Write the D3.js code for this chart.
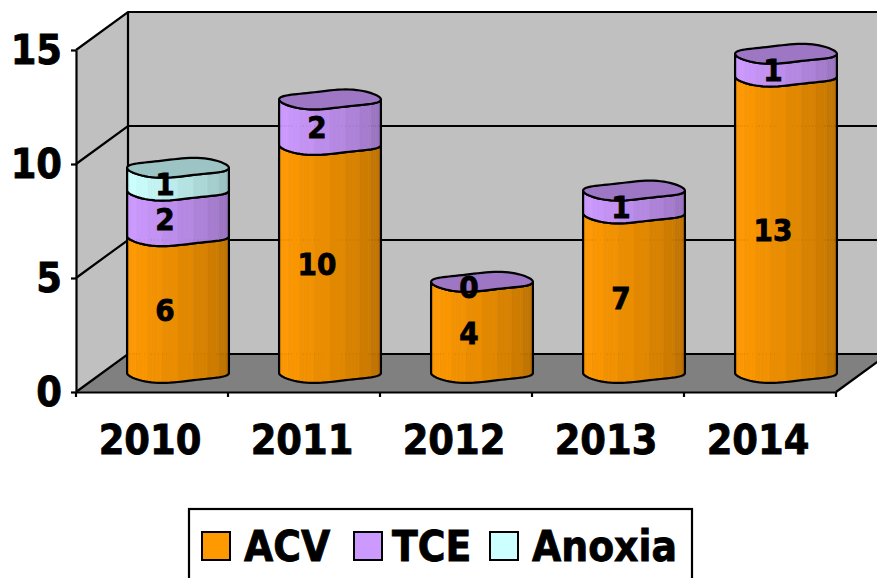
<!DOCTYPE html>
<html>
<head>
<meta charset="utf-8">
<script src="https://cdn.jsdelivr.net/npm/d3@7"></script>
<style>
html, body { margin: 0; padding: 0; background: #fff; overflow: hidden; }
svg { display: block; }
text { font-family: "DejaVu Sans Condensed", "DejaVu Sans", sans-serif; font-stretch: condensed; font-weight: bold; fill: #000; stroke: #000; stroke-width: 0.8px; }
</style>
</head>
<body>
<svg width="877" height="578"></svg>
<script>
var years = ["2010", "2011", "2012", "2013", "2014"];
var seriesNames = ["ACV", "TCE", "Anoxia"];
var acv = [6, 10, 4, 7, 13];
var tce = [2, 2, 0, 1, 1];
var anoxia = [1, null, null, null, null];
var yTicks = [0, 5, 10, 15];
var seriesColors = ["#FF9900", "#CC99FF", "#CCFFFF"];

var width = 877, height = 578;
var svg = d3.select("svg");

// front plane of the 3d box, the back wall is this shifted by depth
var x = d3.scaleBand().domain(years).range([76, 836]);
var y = d3.scaleLinear().domain([0, 15]).range([392, 50]);
var depthX = 52, depthY = 38;
var boxRight = x.range()[1];

var table = years.map(function(d, i) {
  return { year: d, ACV: acv[i], TCE: tce[i], Anoxia: anoxia[i] || 0, has: [true, true, anoxia[i] != null] };
});
var stacked = d3.stack().keys(seriesNames)(table);

// walls and floor
var yMax = y(15), y0 = y(0);
var frame = svg.append("g");
frame.append("path")
  .attr("d", d3.line()([[76, y0], [76, yMax], [76 + depthX, yMax - depthY], [76 + depthX, y0 - depthY]]) + "Z")
  .attr("fill", "#C0C0C0");
frame.append("rect")
  .attr("x", 76 + depthX).attr("y", yMax - depthY)
  .attr("width", boxRight - 76).attr("height", y0 - yMax)
  .attr("fill", "#C0C0C0");
frame.append("path")
  .attr("d", d3.line()([[76, y0], [76 + depthX, y0 - depthY], [boxRight + depthX, y0 - depthY], [boxRight, y0]]) + "Z")
  .attr("fill", "#808080");

// gridlines run along the side wall and then the back wall
yTicks.forEach(function(t) {
  frame.append("path")
    .attr("d", d3.line()([[76, y(t)], [76 + depthX, y(t) - depthY], [boxRight + depthX, y(t) - depthY]]))
    .attr("fill", "none").attr("stroke", "#000").attr("stroke-width", 2.2);
});
frame.append("line")
  .attr("x1", 76 + depthX).attr("x2", 76 + depthX)
  .attr("y1", yMax - depthY).attr("y2", y0 - depthY)
  .attr("stroke", "#000").attr("stroke-width", 2.2);
frame.append("line")
  .attr("x1", boxRight).attr("x2", boxRight + depthX)
  .attr("y1", y0).attr("y2", y0 - depthY)
  .attr("stroke", "#000").attr("stroke-width", 2.2);

// axes
var yAxis = svg.append("g").attr("transform", "translate(76,0)")
  .call(d3.axisLeft(y).tickValues(yTicks).tickSize(5).tickPadding(9).tickSizeOuter(0));
var xAxis = svg.append("g").attr("transform", "translate(0," + y0 + ")")
  .call(d3.axisBottom(x).tickSize(0).tickPadding(33));
xAxis.selectAll("g.edge").data(d3.range(years.length + 1)).enter().append("line")
  .attr("class", "edge")
  .attr("x1", function(d) { return 76 + d * x.bandwidth(); })
  .attr("x2", function(d) { return 76 + d * x.bandwidth(); })
  .attr("y1", 0).attr("y2", 5);
svg.selectAll(".domain, .tick line, .edge").attr("stroke", "#000").attr("stroke-width", 2.2);
yAxis.selectAll("text").attr("font-size", 41).attr("font-family", null).attr("dy", "0.33em");
xAxis.selectAll("text").attr("font-size", 41).attr("font-family", null).attr("dy", "0.71em").attr("dx", -2);

// cylinders
var barW = x.bandwidth() * 0.67, ry = 9, steps = 40, bands = 10, wobble = 1.7;

function rim(u) { // wobbly front edge of the ellipse
  return ry * Math.sqrt(Math.max(0, 1 - u * u)) - wobble * Math.sin(Math.PI * u);
}
function back(u) {
  return -ry * Math.sqrt(Math.max(0, 1 - u * u)) - wobble * Math.sin(Math.PI * u);
}
function stepU(i) { return -Math.cos(Math.PI * i / steps); }
function shade(color, t) {
  var band = Math.floor(t * bands);
  var k = band == 0 ? 0.96 : 1 - 0.28 * Math.pow((band - 1) / (bands - 2), 1.3);
  var c = d3.rgb(color);
  return d3.rgb(c.r * k, c.g * k, c.b * k).formatHex();
}

var barLayer = svg.append("g");
var labelLayer = svg.append("g");

years.forEach(function(yr, i) {
  var cx = x(yr) + x.bandwidth() / 2 + depthX / 2;
  var r = barW / 2;
  var topY = null, topColor = null;

  stacked.forEach(function(s, si) {
    if (!table[i].has[si]) return;
    var yBot = y(s[i][0]) - depthY / 2, yTop = y(s[i][1]) - depthY / 2;
    var g = barLayer.append("g");
    d3.range(steps).forEach(function(k) {
      var a = stepU(k), b = stepU(k + 1);
      var col = shade(seriesColors[si], k / steps);
      g.append("path")
        .attr("d", d3.line()([
          [cx + a * r, yTop + rim(a)], [cx + b * r, yTop + rim(b)],
          [cx + b * r, yBot + rim(b)], [cx + a * r, yBot + rim(a)]
        ]) + "Z")
        .attr("fill", col).attr("stroke", col).attr("stroke-width", 0.5);
    });
    var front = d3.range(steps + 1).map(function(k) { var u = stepU(k); return [cx + u * r, yBot + rim(u)]; });
    var frontTop = d3.range(steps + 1).map(function(k) { var u = stepU(k); return [cx + u * r, yTop + rim(u)]; });
    g.append("path")
      .attr("d", d3.line()(front.concat(frontTop.slice().reverse())) + "Z")
      .attr("fill", "none").attr("stroke", "#000").attr("stroke-width", 2.2);
    topY = yTop;
    topColor = seriesColors[si];
  });

  // lid takes the colour of the topmost series, darkened
  var lid = d3.range(steps + 1).map(function(k) { var u = stepU(k); return [cx + u * r, topY + rim(u)]; })
    .concat(d3.range(steps, -1, -1).map(function(k) { var u = stepU(k); return [cx + u * r, topY + back(u)]; }));
  var c = d3.rgb(topColor);
  barLayer.append("path")
    .attr("d", d3.line()(lid) + "Z")
    .attr("fill", d3.rgb(c.r * 0.77, c.g * 0.77, c.b * 0.77).formatHex())
    .attr("stroke", "#000").attr("stroke-width", 2.2);

  // value labels
  stacked.forEach(function(s, si) {
    if (!table[i].has[si]) return;
    labelLayer.append("text")
      .attr("x", x(yr) + x.bandwidth() / 2 + 13)
      .attr("y", y((s[i][0] + s[i][1]) / 2) - 14)
      .attr("dy", "0.36em")
      .attr("text-anchor", "middle")
      .attr("font-size", 31)
      .text(s[i][1] - s[i][0]);
  });
});

// legend
var legend = svg.append("g");
legend.append("rect")
  .attr("x", 189).attr("y", 509).attr("width", 503).attr("height", 80)
  .attr("fill", "#fff").attr("stroke", "#000").attr("stroke-width", 2.2);
var legendOffset = { ACV: 202, TCE: 354, Anoxia: 490 };
seriesNames.forEach(function(name, i) {
  var lx = legendOffset[name];
  legend.append("rect")
    .attr("x", lx).attr("y", 532).attr("width", 28).attr("height", 28)
    .attr("fill", seriesColors[i]).attr("stroke", "#000").attr("stroke-width", 2);
  legend.append("text")
    .attr("x", lx + (name == "TCE" ? 38 : 42)).attr("y", 561)
    .attr("font-size", 42)
    .text(name);
});
</script>
</body>
</html>
